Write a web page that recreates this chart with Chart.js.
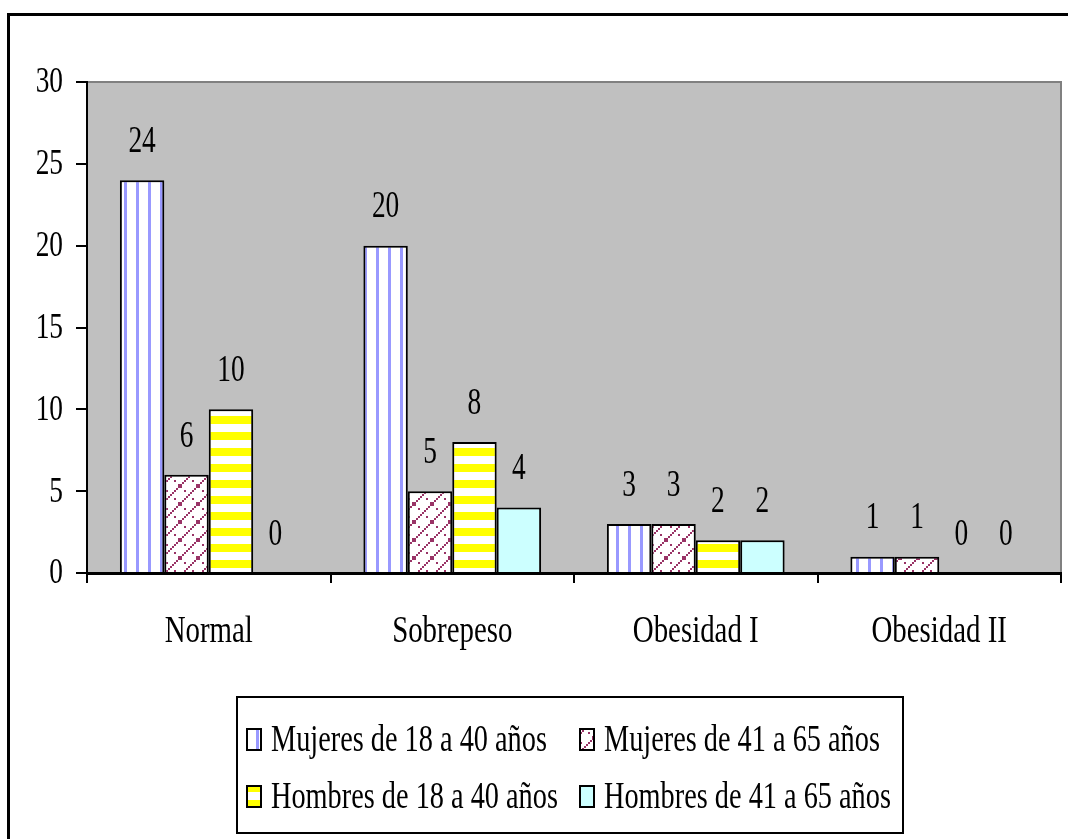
<!DOCTYPE html>
<html>
<head>
<meta charset="utf-8">
<script src="https://cdn.jsdelivr.net/npm/chart.js@4/dist/chart.umd.min.js"></script>
<style>
    html, body { margin: 0; padding: 0; background: #fff; }
    #chart-container { width: 1068px; height: 839px; }
</style>
</head>
<body>
<div id="chart-container"><canvas id="myChart"></canvas></div>
<script>
const categories = ["Normal", "Sobrepeso", "Obesidad I", "Obesidad II"];
const seriesNames = [
    "Mujeres de 18 a 40 años",
    "Mujeres de 41 a 65 años",
    "Hombres de 18 a 40 años",
    "Hombres de 41 a 65 años",
];
const mujeres18 = [24, 20, 3, 1];
const mujeres41 = [6, 5, 3, 1];
const hombres18 = [10, 8, 2, 0];
const hombres41 = [0, 4, 2, 0];
const yTicks = [0, 5, 10, 15, 20, 25, 30];

const FONT = "'Liberation Serif', 'Times New Roman', serif";

const makeTile = (w, h, draw) => {
    let c = document.createElement("canvas");
    c.width = w;
    c.height = h;
    let ctx = c.getContext("2d");
    ctx.fillStyle = "#ffffff";
    ctx.fillRect(0, 0, w, h);
    draw(ctx);
    return document.createElement("canvas").getContext("2d").createPattern(c, "repeat");
};

// vertical light blue stripes
const bluePattern = makeTile(12, 12, (ctx) => {
    ctx.fillStyle = "#9999ff";
    ctx.fillRect(4, 0, 3, 12);
});

// maroon dashed lattice
const latticePattern = makeTile(18, 18, (ctx) => {
    ctx.fillStyle = "#993366";
    for (let i = 0; i < 18; i += 2) {
        // "/" strokes, mostly solid
        if (i != 8) {
            ctx.fillRect(i, 16 - i, 2, 2);
        }
        // "\" strokes, broken
        if (i % 4 == 0) {
            ctx.fillRect(i, i, 2, 2);
        }
    }
});

// horizontal yellow stripes
const yellowPattern = makeTile(16, 16, (ctx) => {
    ctx.fillStyle = "#ffff00";
    ctx.fillRect(0, 0, 16, 8);
});

const fills = [bluePattern, latticePattern, yellowPattern, "#ccffff"];

// tall narrow text like the original picture
const drawText = (ctx, text, x, y, size, sx, align) => {
    ctx.save();
    ctx.translate(x, y);
    ctx.scale(sx, 1);
    ctx.font = size + "px " + FONT;
    ctx.fillStyle = "#000";
    ctx.textAlign = align;
    ctx.textBaseline = "middle";
    ctx.fillText(text, 0, 0);
    ctx.restore();
};

const plotBackground = {
    id: "plotBackground",
    beforeDraw: (chart) => {
        const { ctx, chartArea } = chart;
        ctx.save();
        ctx.fillStyle = "#c0c0c0";
        ctx.fillRect(chartArea.left, chartArea.top, chartArea.right - chartArea.left, chartArea.bottom - chartArea.top);
        ctx.strokeStyle = "#808080";
        ctx.lineWidth = 2;
        ctx.beginPath();
        ctx.moveTo(chartArea.left, chartArea.top);
        ctx.lineTo(chartArea.right, chartArea.top);
        ctx.lineTo(chartArea.right, chartArea.bottom);
        ctx.stroke();
        // outer frame, only top and left show in the picture
        ctx.strokeStyle = "#000";
        ctx.lineWidth = 3;
        ctx.strokeRect(8.5, 14.5, 1200, 1000);
        ctx.restore();
    },
};

const axisText = {
    id: "axisText",
    afterDraw: (chart) => {
        const ctx = chart.ctx;
        const x = chart.scales.x;
        const y = chart.scales.y;
        yTicks.forEach((v) => {
            drawText(ctx, String(v), 63, y.getPixelForValue(v) + 1, 36, 0.76, "right");
        });
        chart.data.labels.forEach((lab, i) => {
            drawText(ctx, lab, x.getPixelForValue(i), 632, 37, 0.78, "center");
        });
    },
};

const valueLabels = {
    id: "valueLabels",
    afterDatasetsDraw: (chart) => {
        const ctx = chart.ctx;
        chart.data.datasets.forEach((ds, i) => {
            chart.getDatasetMeta(i).data.forEach((bar, j) => {
                drawText(ctx, String(ds.data[j]), bar.x, bar.y - 38, 37, 0.74, "center");
            });
        });
    },
};

const boxLegend = {
    id: "boxLegend",
    afterDraw: (chart) => {
        const ctx = chart.ctx;
        ctx.save();
        ctx.strokeStyle = "#000";
        ctx.lineWidth = 2;
        ctx.strokeRect(237, 697, 666, 136);
        const cols = [247, 580];
        const rows = [740, 797];
        chart.data.datasets.forEach((ds, i) => {
            let x = cols[i % 2];
            let y = rows[Math.floor(i / 2)];
            ctx.fillStyle = ds.backgroundColor;
            ctx.fillRect(x, y - 11, 14, 21);
            ctx.lineWidth = 2;
            ctx.strokeRect(x, y - 11, 14, 21);
            drawText(ctx, ds.label, x + 24, y + 1, 37, 0.765, "left");
        });
        ctx.restore();
    },
};

const allSeries = [mujeres18, mujeres41, hombres18, hombres41];

const data = {
    labels: categories,
    datasets: allSeries.map((values, i) => ({
        label: seriesNames[i],
        data: values,
        backgroundColor: fills[i],
        borderColor: "#000",
        borderWidth: 2,
        borderSkipped: "bottom",
        barPercentage: 1,
        categoryPercentage: 0.73,
    })),
};

const config = {
    type: "bar",
    data: data,
    options: {
        responsive: false,
        animation: false,
        devicePixelRatio: 1,
        layout: { padding: { left: 0, top: 82, right: 7, bottom: 166 } },
        plugins: {
            legend: { display: false },
            tooltip: { enabled: false },
        },
        scales: {
            x: {
                grid: { offset: true, drawOnChartArea: false, tickLength: 10, color: "#000", lineWidth: 2 },
                border: { color: "#000", width: 3 },
                ticks: { color: "rgba(0,0,0,0)", font: { family: FONT, size: 28 }, padding: 32 },
                afterFit: (scale) => { scale.height = 100; },
            },
            y: {
                min: 0,
                max: 30,
                afterBuildTicks: (scale) => { scale.ticks = yTicks.map((v) => ({ value: v })); },
                grid: { drawOnChartArea: false, tickLength: 11, color: "#000", lineWidth: 2 },
                border: { color: "#000", width: 2 },
                ticks: { color: "rgba(0,0,0,0)", font: { family: FONT, size: 27 }, padding: 13 },
                afterFit: (scale) => { scale.width = 87; },
            },
        },
    },
    plugins: [plotBackground, axisText, valueLabels, boxLegend],
};

const canva = document.getElementById("myChart");
canva.width = 1068;
canva.height = 839;
const myChart = new Chart(canva, config);
</script>
</body>
</html>
